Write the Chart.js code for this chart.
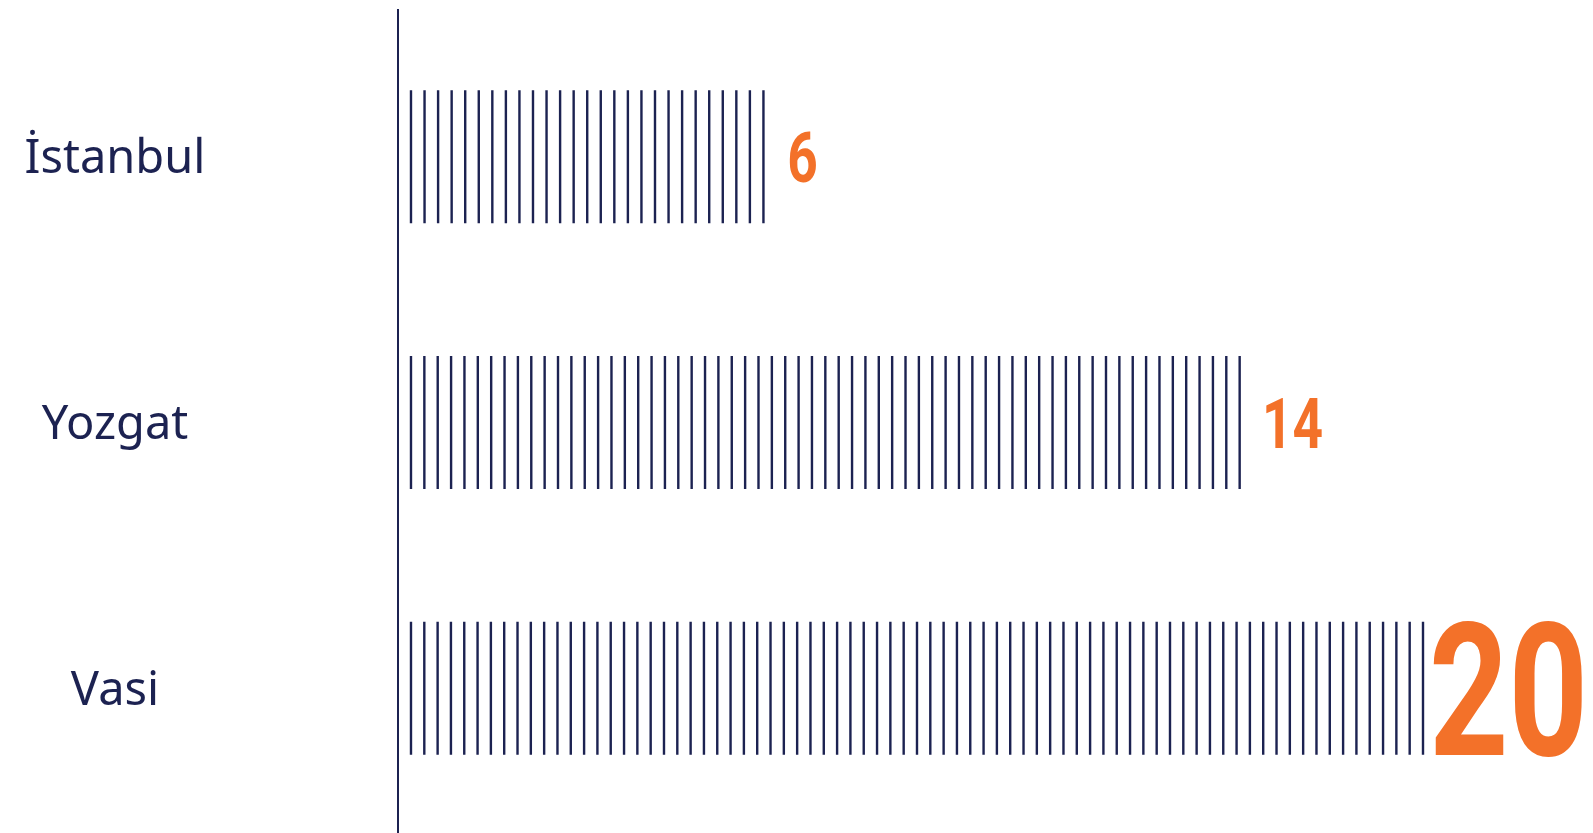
<!DOCTYPE html>
<html>
<body style="margin:0; background:#ffffff;">

<div style="width:1593px; height:833px; position:relative;">
  <canvas id="barChart"></canvas>
</div>

<script src="https://cdn.jsdelivr.net/npm/chart.js"></script>

<script>
const cities = ['İstanbul', 'Yozgat', 'Vasi'];
const counts = [6, 14, 20];

const navy = '#1c2251';
const orange = '#f37129';
const labelFont = '47px "Noto Sans"';
const numberFamily = 'Roboto, "DejaVu Sans", sans-serif';

// city names sit centred at x = 115, work out the tick padding for that
let m = document.createElement('canvas').getContext('2d');
m.font = labelFont;
let widest = Math.max(...cities.map(c => m.measureText(c).width));
let tickPad = 398 - 115 - widest / 2;

const hatchPlugin = {
    id: 'hatch',
    afterDatasetsDraw(chart){
        let ctx = chart.ctx;
        let area = chart.chartArea;
        let meta = chart.getDatasetMeta(0);
        let biggest = Math.max(...counts);
        ctx.save();

        // axis line, runs past the plot area
        ctx.strokeStyle = navy;
        ctx.lineWidth = 2;
        ctx.beginPath();
        ctx.moveTo(area.left, 9);
        ctx.lineTo(area.left, chart.height);
        ctx.stroke();

        meta.data.forEach((bar, i) => {
            let start = bar.base + 3.7;
            let end = Math.min(bar.x, area.right) - 1;
            let n = Math.round((end - start) / 13.33);
            let step = (end - start) / n;
            let top = bar.y - bar.height / 2;
            let bottom = bar.y + bar.height / 2;

            ctx.strokeStyle = navy;
            ctx.lineWidth = 2.4;
            ctx.beginPath();
            for(let k = 0; k <= n; k++){
                let x = start + k * step;
                ctx.moveTo(x, top);
                ctx.lineTo(x, bottom);
            }
            ctx.stroke();

            // value label, condensed; the largest one fills the bar height
            let big = counts[i] === biggest;
            let text = String(counts[i]);
            let h = big ? 135 : 51;
            let w = h * (0.57 * text.length - 0.04);
            ctx.font = `bold 100px ${numberFamily}`;
            let probe = ctx.measureText(text);
            let size = 100 * h / probe.actualBoundingBoxAscent;
            ctx.font = `bold ${size}px ${numberFamily}`;
            let tm = ctx.measureText(text);
            let sx = w / (tm.actualBoundingBoxLeft + tm.actualBoundingBoxRight);
            let gx = Math.min(bar.x, area.right) + (big ? 9.5 : 25);

            ctx.save();
            ctx.fillStyle = orange;
            ctx.textAlign = 'left';
            ctx.textBaseline = 'alphabetic';
            ctx.translate(gx, bar.y + tm.actualBoundingBoxAscent / 2);
            ctx.scale(sx, 1);
            ctx.fillText(text, tm.actualBoundingBoxLeft, 0);
            ctx.restore();
        });
        ctx.restore();
    }
};

new Chart(document.getElementById('barChart').getContext('2d'), {
    type: 'bar',
    data: {
        labels: cities,
        datasets: [{
            data: counts,
            backgroundColor: 'rgba(0,0,0,0)',
            borderWidth: 0,
            barThickness: 133
        }]
    },
    options: {
        indexAxis: 'y',
        responsive: true,
        maintainAspectRatio: false,
        animation: false,
        layout: {
            padding: { top: 24, bottom: 12, left: 0, right: 169 }
        },
        plugins: {
            legend: { display: false },
            tooltip: { enabled: false }
        },
        scales: {
            x: {
                min: -0.156,
                max: 17.08,
                display: false
            },
            y: {
                grid: { display: false, drawTicks: false },
                border: { display: false },
                ticks: {
                    font: { family: 'Noto Sans', size: 47 },
                    color: navy,
                    crossAlign: 'center',
                    padding: tickPad
                },
                afterFit(scale){
                    scale.width = 398;
                    scale.paddingTop = 0;
                    scale.paddingBottom = 0;
                    // names sit a few px lower than the bar centre
                    let orig = scale._computeLabelItems;
                    scale._computeLabelItems = function(ca){
                        let items = orig.call(this, ca);
                        items.forEach(it => { it.options.translation[1] += 3; });
                        return items;
                    };
                }
            }
        }
    },
    plugins: [hatchPlugin]
});
</script>

</body>
</html>
